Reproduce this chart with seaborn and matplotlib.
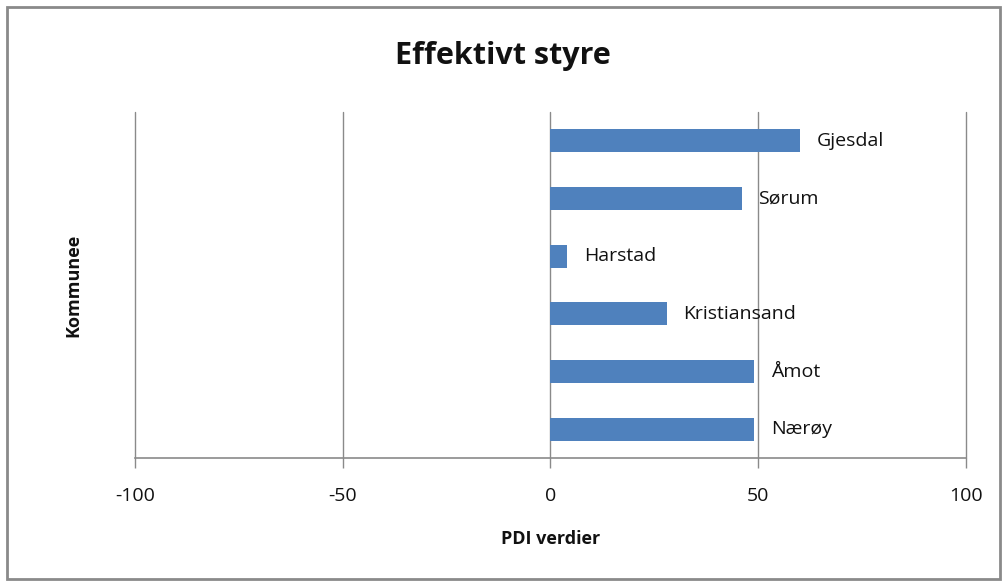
import matplotlib
matplotlib.use("Agg")
import matplotlib.pyplot as plt
import pandas as pd
import seaborn as sns
from matplotlib.patches import Rectangle

kommuner = ["Gjesdal", "Sørum", "Harstad", "Kristiansand", "Åmot", "Nærøy"]
pdi_verdier = [60, 46, 4, 28, 49, 49]
x_ticks = [-100, -50, 0, 50, 100]

df = pd.DataFrame({"kommune": kommuner, "pdi": pdi_verdier})

sns.set_theme(style="white")
plt.rcParams["font.family"] = ["Open Sans", "DejaVu Sans"]

fig = plt.figure(figsize=(10.05, 5.81), dpi=100)
ax = fig.add_axes([0.1343, 0.2117, 0.8269, 0.5955])

sns.barplot(data=df, x="pdi", y="kommune", orient="h", color="#4F81BD",
            width=0.4, saturation=1, linewidth=0, ax=ax, zorder=3)

ax.set_xlim(-100, 100)
ax.set_xticks(x_ticks)
ax.set_xticklabels([str(t) for t in x_ticks], fontsize=14, color="#111111")
ax.xaxis.grid(True, color="#8a8a8a", linewidth=1, zorder=0)
for gl in ax.get_xgridlines():
    gl.set_clip_on(False)
ax.set_axisbelow(True)
ax.set_yticks([])
ax.tick_params(axis="x", direction="out", length=7, width=1, color="#8a8a8a",
               pad=14, bottom=True)

for side in ["top", "right", "left"]:
    ax.spines[side].set_visible(False)
ax.spines["bottom"].set_color("#8a8a8a")
ax.spines["bottom"].set_linewidth(1.2)

for i, (name, val) in enumerate(zip(kommuner, pdi_verdier)):
    ax.annotate(name, xy=(val, i), xytext=(12, 0), textcoords="offset points",
                va="center", ha="left", fontsize=14, color="#111111")

ax.set_xlabel("PDI verdier", fontsize=13, fontweight="bold", labelpad=18, color="#111111")
ax.set_ylabel("Kommunee", fontsize=13, fontweight="bold", labelpad=38, color="#111111")
fig.suptitle("Effektivt styre", fontsize=22, fontweight="bold", y=0.93, color="#111111")

fig.patches.append(Rectangle((0.007, 0.004), 0.988, 0.984, transform=fig.transFigure,
                             fill=False, edgecolor="#8a8a8a", linewidth=2))

fig.savefig("out.png", dpi=100)
